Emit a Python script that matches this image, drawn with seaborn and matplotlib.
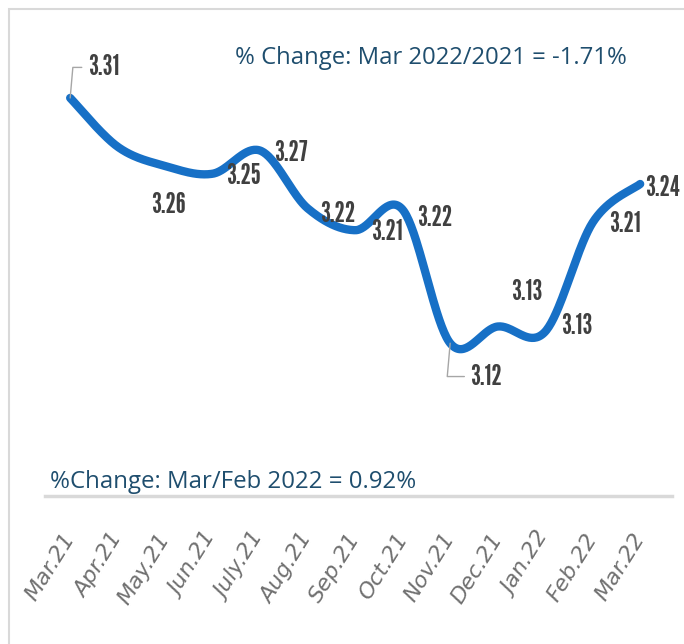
import numpy as np
import pandas as pd
import seaborn as sns
import matplotlib.pyplot as plt

months = ['Mar.21', 'Apr.21', 'May.21', 'Jun.21', 'July.21', 'Aug.21', 'Sep.21',
          'Oct.21', 'Nov.21', 'Dec.21', 'Jan.22', 'Feb.22', 'Mar.22']
values = [3.310, 3.272, 3.257, 3.251, 3.269, 3.224, 3.207,
          3.223, 3.119, 3.132, 3.128, 3.213, 3.243]
labels = ['3.31', '', '3.26', '3.25', '3.27', '3.22', '3.21',
          '3.22', '3.12', '3.13', '3.13', '3.21', '3.24']
# label offsets in points (dx, dy) from the point
offsets = [(24, 22), (0, 0), (2, -28), (22, -2), (22, -2), (22, -4), (23, -1),
           (23, -6), (26, -24), (21, 25), (23, 4), (23, -1), (16, -3)]
note_top = '% Change: Mar 2022/2021 = -1.71%'
note_bottom = '%Change: Mar/Feb 2022 = 0.92%'

# smoothed curve (bezier through the points, like a spreadsheet "smoothed line")
x = np.arange(len(values), dtype=float)
y = np.array(values)
xs, ys = [], []
for i in range(len(x) - 1):
    p0 = np.array([x[max(i - 1, 0)], y[max(i - 1, 0)]])
    p1 = np.array([x[i], y[i]])
    p2 = np.array([x[i + 1], y[i + 1]])
    p3 = np.array([x[min(i + 2, len(x) - 1)], y[min(i + 2, len(x) - 1)]])
    c1 = p1 + (p2 - p0) / 6
    c2 = p2 - (p3 - p1) / 6
    t = np.linspace(0, 1, 40)[:, None]
    seg = (1 - t) ** 3 * p1 + 3 * (1 - t) ** 2 * t * c1 + 3 * (1 - t) * t ** 2 * c2 + t ** 3 * p2
    xs.extend(seg[:, 0]); ys.extend(seg[:, 1])
curve = pd.DataFrame({'x': xs, 'y': ys})

sns.set_style('white')
W, H = 684, 644
fig = plt.figure(figsize=(W / 100, H / 100), dpi=100)
ax = fig.add_axes([45 / W, 1 - 496 / H, (672 - 45) / W, (496 - 20) / H])

sns.lineplot(data=curve, x='x', y='y', sort=False, estimator=None,
             color='#1770c6', linewidth=6, ax=ax, solid_capstyle='round')

ax.set_xlim(-0.53, 12.67)
ax.set_ylim(3.0, 3.0 + 476 / 1284)
for s in ['top', 'left', 'right']:
    ax.spines[s].set_visible(False)
ax.spines['bottom'].set_color('#d9d9d9')
ax.spines['bottom'].set_linewidth(2.5)
ax.set_yticks([])
ax.set_xticks(range(len(months)))
ax.set_xticklabels(months, rotation=58, ha='right', va='center', rotation_mode='anchor',
                   fontsize=16, color='#707070', fontstyle='oblique',
                   family='DejaVu Sans')
ax.tick_params(axis='x', length=0, pad=28)
ax.set_xlabel('')
ax.set_ylabel('')

for i, (v, lab) in enumerate(zip(values, labels)):
    if not lab:
        continue
    dx, dy = offsets[i]
    kw = {}
    if i in (0, 8):
        kw['arrowprops'] = dict(arrowstyle='-', color='#a6a6a6', lw=1,
                                connectionstyle='angle,angleA=0,angleB=85',
                                shrinkA=2, shrinkB=0)
    ax.annotate(lab, xy=(i, v), xytext=(dx, dy), textcoords='offset points',
                ha='center', va='center', fontsize=20.5,
                color='#404040', family='League Gothic', **kw)

fig.text(235 / W, 1 - 58 / H, note_top, ha='left', va='center',
         fontsize=17.2, color='#1f4e6e', family='Open Sans')
fig.text(50 / W, 1 - 482 / H, note_bottom, ha='left', va='center',
         fontsize=17.3, color='#1f4e6e', family='Open Sans')

fig.add_artist(plt.Rectangle((9 / W, -0.1), 1.1, 1 - 9 / H + 0.1, transform=fig.transFigure,
                             fill=False, edgecolor='#d9d9d9', linewidth=1.5))

fig.savefig('out.png', dpi=100)
